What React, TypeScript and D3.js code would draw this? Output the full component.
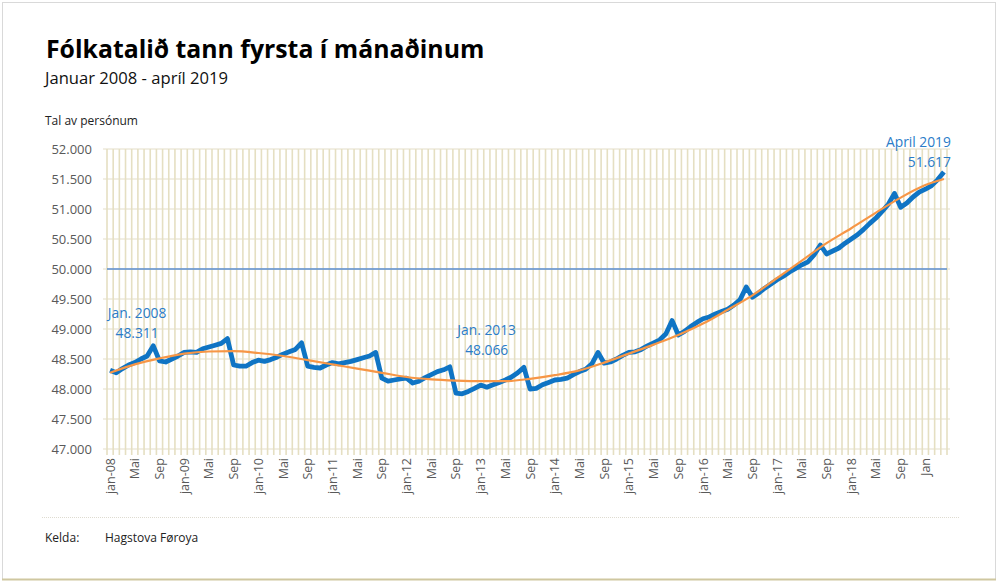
import React from 'react';
import * as d3 from 'd3';

// y axis ticks
const yTicks = [47000, 47500, 48000, 48500, 49000, 49500, 50000, 50500, 51000, 51500, 52000];

// x tick labels, one every 4th month starting jan-08
const tickLabels = [
  'jan-08', 'Mai', 'Sep', 'jan-09', 'Mai', 'Sep', 'jan-10', 'Mai', 'Sep',
  'jan-11', 'Mai', 'Sep', 'jan-12', 'Mai', 'Sep', 'jan-13', 'Mai', 'Sep',
  'jan-14', 'Mai', 'Sep', 'jan-15', 'Mai', 'Sep', 'jan-16', 'Mai', 'Sep',
  'jan-17', 'Mai', 'Sep', 'jan-18', 'Mai', 'Sep', 'Jan',
];

// population on the first of each month, jan 2008 - apr 2019
const population = [
  48311, 48270, 48340, 48400, 48440, 48500, 48550, 48720, 48470, 48450, 48500, 48550, // 2008
  48610, 48620, 48610, 48670, 48700, 48730, 48760, 48840, 48400, 48380, 48380, 48440, // 2009
  48480, 48460, 48490, 48530, 48580, 48620, 48660, 48770, 48380, 48360, 48350, 48400, // 2010
  48440, 48420, 48440, 48460, 48490, 48520, 48550, 48610, 48180, 48130, 48150, 48170, // 2011
  48180, 48100, 48130, 48190, 48240, 48290, 48320, 48370, 47930, 47920, 47960, 48010, // 2012
  48066, 48030, 48070, 48110, 48150, 48200, 48270, 48360, 48000, 48010, 48070, 48110, // 2013
  48150, 48160, 48180, 48240, 48290, 48330, 48420, 48610, 48430, 48450, 48500, 48560, // 2014
  48610, 48620, 48660, 48720, 48770, 48820, 48920, 49140, 48900, 48960, 49040, 49110, // 2015
  49170, 49200, 49250, 49290, 49330, 49400, 49490, 49700, 49530, 49600, 49680, 49750, // 2016
  49820, 49880, 49950, 50010, 50070, 50120, 50240, 50400, 50250, 50300, 50350, 50430, // 2017
  50500, 50570, 50660, 50760, 50850, 50960, 51080, 51260, 51030, 51100, 51200, 51280, // 2018
  51330, 51390, 51490, 51617, // 2019
];

// trend line (orange), read at every 4th month
const trendMonth = [
  0, 4, 8, 12, 16, 20, 24, 28, 32, 36, 40, 44, 48, 52, 56, 60, 64, 68,
  72, 76, 80, 84, 88, 92, 96, 100, 104, 108, 112, 116, 120, 124, 128, 132, 135,
];
const trendValue = [
  48270, 48410, 48510, 48590, 48625, 48630, 48600, 48550, 48480, 48410, 48340, 48270,
  48200, 48160, 48140, 48130, 48130, 48170, 48230, 48310, 48440, 48590, 48740, 48900,
  49090, 49320, 49560, 49850, 50140, 50430, 50680, 50940, 51190, 51400, 51500,
];

// labelled points: [month index, title]
const callouts: [number, string][] = [
  [0, 'Jan. 2008'],
  [60, 'Jan. 2013'],
  [135, 'April 2019'],
];

const W = 1000;
const H = 586;
const left = 107;
const right = 947;
const top = 149;
const bottom = 449;
const font = '"Open Sans", "Noto Sans", sans-serif';
const blue = '#0f74c4';

export default function App() {
  const months = d3.range(population.length);
  const x = d3.scaleBand<number>().domain(months).range([left, right]);
  const y = d3.scaleLinear().domain([47000, 52000]).range([bottom, top]);
  const cx = (i: number) => (x(i) as number) + x.bandwidth() / 2;
  const fmt = (v: number) => d3.format(',')(v).replace(/,/g, '.');

  const dataLine = d3.line<number>().x((d, i) => cx(i)).y(d => y(d));
  const trendLine = d3.line<number>()
    .x((d, i) => cx(trendMonth[i]))
    .y(d => y(d))
    .curve(d3.curveMonotoneX);

  const bounds = d3.range(population.length + 1).map(k => left + k * x.bandwidth());

  return (
    <div style={{ position: 'absolute', left: 0, top: 0 }}>
      <svg width={W} height={H} style={{ display: 'block', fontFamily: font }}>
        <rect x={0} y={0} width={W} height={H} fill="#fff" />
        {/* frame */}
        <rect x={2.5} y={2.5} width={993} height={577} fill="none" stroke="#d9d9d9" />
        <line x1={2} x2={996} y1={579.5} y2={579.5} stroke="#cfc7a0" strokeWidth={2} />

        <text x={46} y={58} fontSize={24.8} fontWeight={700} fill="#000">
          Fólkatalið tann fyrsta í mánaðinum
        </text>
        <text x={45} y={84} fontSize={16.6} fill="#111">Januar 2008 - apríl 2019</text>
        <text x={45} y={125} fontSize={12} fill="#222">Tal av persónum</text>

        {/* horizontal grid */}
        {yTicks.map(t => (
          <line key={t} x1={103} x2={950} y1={y(t)} y2={y(t)} stroke="#ece8da" strokeWidth={1.5} />
        ))}
        {/* vertical grid, one per month */}
        {bounds.map((b, k) => (
          <line key={k} x1={b} x2={b} y1={top} y2={bottom + 6} stroke="#e5dfc2" strokeWidth={1.6} />
        ))}
        {/* y labels */}
        {yTicks.map(t => (
          <text key={t} x={92} y={y(t) + 4.5} fontSize={13} fill="#595959" textAnchor="end">
            {fmt(t)}
          </text>
        ))}
        {/* x labels */}
        {tickLabels.map((lab, k) => (
          <text
            key={k}
            transform={`translate(${cx(k * 4) + 4.5},${bottom + 9}) rotate(-90)`}
            fontSize={12.5}
            fill="#595959"
            textAnchor="end"
          >
            {lab}
          </text>
        ))}

        {/* 50.000 reference line */}
        <line x1={107} x2={947} y1={y(50000)} y2={y(50000)} stroke="#5b8ed0" strokeWidth={1.5} />

        <path d={dataLine(population) || ''} fill="none" stroke={blue} strokeWidth={4.8} strokeLinejoin="round" />
        <path d={trendLine(trendValue) || ''} fill="none" stroke="#f79646" strokeWidth={2.2} />

        {callouts.map(([i, title]) => {
          const px = cx(i);
          const py = y(population[i]);
          let tx = px + 27;
          let ty = py - 52;
          let anchor = 'middle';
          if (i === 60) { tx = px + 6; ty = py - 50; }
          if (i === 135) { tx = px + 7; ty = py - 25; anchor = 'end'; }
          return (
            <g key={i} fill="#2a7cc8" fontSize={13.8} textAnchor={anchor}>
              <text x={tx} y={ty}>{title}</text>
              <text x={tx} y={ty + 20}>{fmt(population[i])}</text>
            </g>
          );
        })}

        <line x1={42} x2={960} y1={517.5} y2={517.5} stroke="#dedbd0" strokeDasharray="1 1" />
        <text x={45} y={542} fontSize={12} fill="#222">Kelda:</text>
        <text x={105} y={542} fontSize={12} fill="#222">Hagstova Føroya</text>
      </svg>
    </div>
  );
}
